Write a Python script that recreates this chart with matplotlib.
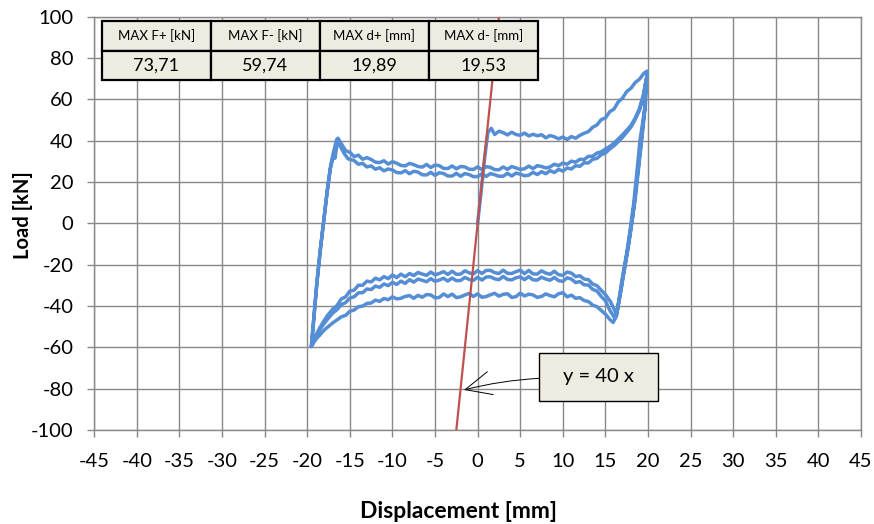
import matplotlib
matplotlib.use("Agg")
import matplotlib.pyplot as plt
from matplotlib.patches import Rectangle
import numpy as np

plt.rcParams['font.family'] = ['Lato', 'DejaVu Sans']
plt.rcParams['axes.unicode_minus'] = False

# ---- hysteresis record, branch by branch (displacement mm, load kN) ----
# cycle 1: virgin loading up to the positive peak
c1_load_d = [0, 0.4, 0.8, 1.2, 1.6, 2, 2.5, 3, 3.5, 4, 4.5, 5, 5.5, 6, 6.5, 7, 7.5, 8, 8.5, 9,
             9.5, 10, 10.5, 11, 11.5, 12, 12.5, 13, 13.5, 14, 14.5, 15, 15.5, 16, 16.5, 17, 17.5,
             18, 18.5, 19, 19.5, 19.89]
c1_load_f = [0, 15, 31, 44, 46, 43.0, 44.6, 43.9, 42.8, 44.1, 43.0, 42.6, 43.7, 42.3, 43.1, 42.4,
             42.9, 41.4, 42.5, 41.9, 40.9, 41.8, 40.6, 42.0, 41.2, 42.6, 43.6, 44.4, 46.5, 47.6,
             50.2, 51.0, 54.0, 55.3, 58.8, 60.6, 63.8, 65.4, 68.2, 69.8, 72.6, 73.71]
c1_unload_d = [19.6, 19.05, 18.7, 18.3, 17.9, 17.5, 17.0, 16.6, 16.3]
c1_unload_f = [55, 40, 25, 9, -3, -14.5, -26, -37, -45]
c1_back_d = [15.9, 15.5, 15, 14.5, 14, 13.5, 13, 12.5, 12, 11.5, 11, 10.5, 10, 9.5, 9, 8.5, 8, 7.5,
             7, 6.5, 6, 5.5, 5, 4.5, 4, 3.5, 3, 2.5, 2, 1.5, 1, 0.5, 0, -0.5, -1, -1.5, -2, -2.5,
             -3, -3.5, -4, -4.5, -5, -5.5, -6, -6.5, -7, -7.5, -8, -8.5, -9, -9.5, -10, -10.5,
             -11, -11.5, -12, -12.5, -13, -13.5, -14, -14.5, -15, -15.5, -16, -17, -18, -18.5,
             -19, -19.53]
c1_back_f = [-48.0, -46.5, -44.0, -42.2, -40.4, -39.6, -37.9, -37.4, -36.0, -36.3, -34.8, -35.6,
             -33.6, -34.1, -35.6, -35.0, -34.2, -35.4, -35.9, -34.7, -34.3, -35.2, -33.8, -35.5,
             -35.9, -34.1, -34.4, -35.3, -33.9, -34.6, -35.5, -35.8, -34.2, -35.4, -34.0, -34.7,
             -35.6, -36.0, -34.3, -35.5, -34.2, -35.9, -36.1, -34.7, -34.5, -35.8, -34.9, -36.3,
             -35.0, -35.4, -36.3, -36.6, -35.6, -37.0, -36.4, -37.8, -37.2, -38.6, -38.8, -40.1,
             -40.4, -42.0, -42.6, -44.6, -45.3, -48.2, -51.6, -54.0, -56.2, -59.74]

# cycle 2
c2_reload_d = [-19.2, -18.9, -18.5, -18.1, -17.7, -17.3, -16.9, -16.75, -16.4]
c2_reload_f = [-45, -30, -14, 0, 14, 26.5, 33, 31.5, 41.2]
c2_fwd_d = [-16, -15.5, -15, -14.5, -14, -13.5, -13, -12.5, -12, -11.5, -11, -10.5, -10, -9.5, -9,
            -8.5, -8, -7.5, -7, -6.5, -6, -5.5, -5, -4.5, -4, -3.5, -3, -2.5, -2, -1.5, -1, -0.5,
            0, 0.5, 1, 1.5, 2, 2.5, 3, 3.5, 4, 4.5, 5, 5.5, 6, 6.5, 7, 7.5, 8, 8.5, 9, 9.5, 10,
            10.5, 11, 11.5, 12, 12.5, 13, 13.5, 14, 14.5, 15, 15.5, 16, 17, 18, 18.5, 19, 19.5,
            19.8]
c2_fwd_f = [38.5, 35.2, 34.4, 32.3, 33.0, 31.0, 31.8, 30.9, 29.6, 29.4, 30.3, 28.7, 29.8, 29.1,
            28.0, 27.8, 29.0, 28.4, 27.5, 27.2, 28.5, 27.0, 28.2, 27.9, 26.6, 26.5, 27.8, 26.4,
            27.5, 27.3, 26.2, 26.1, 27.3, 26.0, 27.4, 27.1, 26.0, 25.9, 27.3, 26.1, 27.5, 26.8,
            26.1, 26.4, 27.7, 26.5, 27.9, 27.5, 26.8, 27.3, 28.6, 27.9, 29.2, 28.6, 30.1, 29.6,
            31.0, 30.9, 32.4, 32.5, 34.0, 34.6, 36.0, 37.2, 38.8, 42.8, 47.4, 51.0, 55.6, 63.0,
            70.0]
c2_unload_d = [19.7, 19.3, 18.9, 18.5, 18.1, 17.7, 17.2, 16.8, 16.4, 16.1]
c2_unload_f = [58, 42, 27, 12, 0, -11, -23, -33, -42, -46]
c2_back_d = [15.5, 15, 14.5, 14, 13.5, 13, 12.5, 12, 11.5, 11, 10.5, 10, 9.5, 9, 8.5, 8, 7.5, 7,
             6.5, 6, 5.5, 5, 4.5, 4, 3.5, 3, 2.5, 2, 1.5, 1, 0.5, 0, -0.5, -1, -1.5, -2, -2.5, -3,
             -3.5, -4, -4.5, -5, -5.5, -6, -6.5, -7, -7.5, -8, -8.5, -9, -9.5, -10, -10.5, -11,
             -11.5, -12, -12.5, -13, -13.5, -14, -14.5, -15, -15.5, -16, -16.5, -17, -17.7,
             -18.5, -19, -19.5]
c2_back_f = [-42.0, -37.5, -35.4, -32.8, -32.0, -29.9, -29.8, -28.2, -28.7, -27.0, -26.4, -28.1,
             -27.8, -26.2, -27.6, -27.0, -26.1, -27.5, -27.4, -25.8, -27.3, -25.9, -26.4, -27.4,
             -27.2, -25.7, -27.3, -26.9, -25.9, -26.0, -27.5, -26.1, -27.6, -27.2, -26.2, -27.7,
             -27.8, -26.5, -28.0, -26.6, -27.5, -28.1, -26.8, -28.3, -27.6, -27.0, -28.5, -27.3,
             -29.1, -28.0, -29.6, -28.6, -30.2, -29.4, -31.0, -30.4, -32.1, -31.8, -33.6, -33.7,
             -35.6, -36.2, -38.4, -39.4, -41.8, -43.4, -46.8, -51.2, -54.6, -59.0]

# cycle 3
c3_reload_d = [-19.2, -18.85, -18.45, -18.05, -17.65, -17.25, -16.95, -16.55]
c3_reload_f = [-44, -28, -12, 2, 16, 28, 34, 40.6]
c3_fwd_d = [-16.2, -15.7, -15.2, -14.5, -14, -13.5, -13, -12.5, -12, -11.5, -11, -10.5, -10, -9.5,
            -9, -8.5, -8, -7.5, -7, -6.5, -6, -5.5, -5, -4.5, -4, -3.5, -3, -2.5, -2, -1.5, -1,
            -0.5, 0, 0.5, 1, 1.5, 2, 2.5, 3, 3.5, 4, 4.5, 5, 5.5, 6, 6.5, 7, 7.5, 8, 8.5, 9, 9.5,
            10, 10.5, 11, 11.5, 12, 12.5, 13, 13.5, 14, 14.5, 15, 15.5, 16, 17, 18, 18.5, 19,
            19.5, 19.75]
c3_fwd_f = [38.0, 34.0, 31.2, 30.4, 28.6, 29.0, 27.3, 27.8, 26.2, 26.9, 25.4, 26.3, 25.8, 24.6,
            24.4, 25.5, 24.0, 25.2, 24.8, 23.5, 23.4, 24.7, 23.2, 24.5, 24.1, 22.9, 22.9, 24.2,
            22.8, 24.1, 23.6, 22.6, 22.6, 24.0, 22.7, 24.1, 23.5, 22.8, 22.8, 24.2, 22.9, 24.3,
            23.8, 23.0, 23.3, 24.7, 23.6, 25.0, 24.0, 25.5, 24.6, 26.1, 25.3, 26.8, 26.3, 27.9,
            27.6, 29.3, 29.2, 31.0, 31.4, 33.2, 34.0, 36.0, 37.5, 41.6, 46.6, 50.3, 54.8, 62.0,
            69.0]
c3_unload_d = [19.6, 19.2, 18.8, 18.4, 18.0, 17.6, 17.1, 16.7, 16.4, 16.3]
c3_unload_f = [55, 40, 25, 10, -2, -13, -25, -35, -42, -44]
c3_back_d = [15.6, 15, 14.5, 14, 13.5, 13, 12.5, 12, 11.5, 11, 10.5, 10, 9.5, 9, 8.5, 8, 7.5, 7,
             6.5, 6, 5.5, 5, 4.5, 4, 3.5, 3, 2.5, 2, 1.5, 1, 0.5, 0, -0.5, -1, -1.5, -2, -2.5, -3,
             -3.5, -4, -4.5, -5, -5.5, -6, -6.5, -7, -7.5, -8, -8.5, -9, -9.5, -10, -10.5, -11,
             -11.5, -12, -12.5, -13, -13.5, -14, -14.5, -15, -15.5, -16, -16.5, -17, -17.7,
             -18.5, -19.2, -19.5]
c3_back_f = [-38.0, -34.5, -32.4, -30.2, -29.4, -27.3, -27.0, -25.4, -25.8, -24.1, -23.6, -25.2,
             -24.9, -23.2, -24.7, -24.1, -23.0, -24.6, -24.5, -22.8, -24.4, -22.7, -23.4, -24.3,
             -24.2, -22.7, -24.3, -23.9, -22.8, -22.8, -24.3, -22.9, -24.5, -24.0, -23.0, -24.6,
             -24.7, -23.2, -24.8, -23.4, -24.3, -25.0, -23.6, -25.2, -24.6, -23.8, -25.3, -24.3,
             -25.9, -24.6, -26.3, -25.0, -26.8, -25.8, -27.4, -26.6, -28.4, -28.0, -30.0, -30.0,
             -32.4, -32.8, -35.6, -36.6, -39.8, -41.5, -45.0, -50.4, -56.0, -59.3]

# elastic stiffness trendline y = 40 x
trend_d = [-2.5, 2.5]
stiffness = 40

# summary table
max_headers = ['MAX F+ [kN]', 'MAX F- [kN]', 'MAX d+ [mm]', 'MAX d- [mm]']
max_values = ['73,71', '59,74', '19,89', '19,53']

disp = np.concatenate([c1_load_d, c1_unload_d, c1_back_d,
                       c2_reload_d, c2_fwd_d, c2_unload_d, c2_back_d,
                       c3_reload_d, c3_fwd_d, c3_unload_d, c3_back_d])
load = np.concatenate([c1_load_f, c1_unload_f, c1_back_f,
                       c2_reload_f, c2_fwd_f, c2_unload_f, c2_back_f,
                       c3_reload_f, c3_fwd_f, c3_unload_f, c3_back_f])

W, H = 874, 524
fig = plt.figure(figsize=(W / 100, H / 100), dpi=100)
ax = fig.add_axes([94.3 / W, 1 - 429.8 / H, 766.7 / W, 413 / H])

grey = '#898989'
ax.plot(disp, load, color='#558ed5', lw=2.5, solid_joinstyle='round', zorder=3)
td = np.array(trend_d)
ax.plot(td, stiffness * td, color='#c0504d', lw=1.6, zorder=4)

ax.set_xlim(-45, 45)
ax.set_ylim(-100, 100)
ax.set_xticks(np.arange(-45, 46, 5))
ax.set_yticks(np.arange(-100, 101, 20))
ax.grid(True, color=grey, lw=1.0)
ax.set_axisbelow(True)
for s in ax.spines.values():
    s.set_color(grey)
    s.set_linewidth(1.0)
ax.tick_params(axis='both', colors=grey, labelcolor='black', labelsize=14.5,
               length=5, width=1.0, direction='out')
ax.tick_params(axis='y', pad=10)
ax.tick_params(axis='x', pad=12)

ax.set_xlabel('Displacement [mm]', fontsize=16.5, fontweight='bold')
ax.xaxis.set_label_coords((458 - 94.3) / 766.7, -0.172)
ax.set_ylabel('Load [kN]', fontsize=14.5, fontweight='bold')
ax.yaxis.set_label_coords((33 - 94.3) / 766.7, 0.52)

# table with the maxima
tbl = ax.table(cellText=[max_values], colLabels=max_headers, cellLoc='center',
               bbox=[(101.7 - 94.3) / 766.7, (429.8 - 80) / 413, (538 - 101.7) / 766.7, 59 / 413])
tbl.auto_set_font_size(False)
for (r, c), cell in tbl.get_celld().items():
    cell.set_facecolor('#eeece1')
    cell.set_edgecolor('black')
    cell.set_linewidth(1.6)
    cell.get_text().set_fontsize(9.5 if r == 0 else 13)
tbl.set_zorder(6)

# trendline equation callout
ax.add_patch(Rectangle((7.19, -86.05), 14.0, 23.1, facecolor='#eeece1', edgecolor='black',
                       lw=1.0, zorder=6))
ax.text(14.19, -74.4, 'y = 40 x', fontsize=14.5, ha='center', va='center', zorder=7)
ax.annotate('', xy=(-1.6, -80.7), xytext=(7.19, -75.1),
            arrowprops=dict(arrowstyle='->,head_length=1.1,head_width=0.5', color='black',
                            lw=0.7, shrinkA=0, shrinkB=0, mutation_scale=17,
                            connectionstyle='arc3,rad=0.05'), zorder=7)

fig.savefig('out.png', dpi=100)
